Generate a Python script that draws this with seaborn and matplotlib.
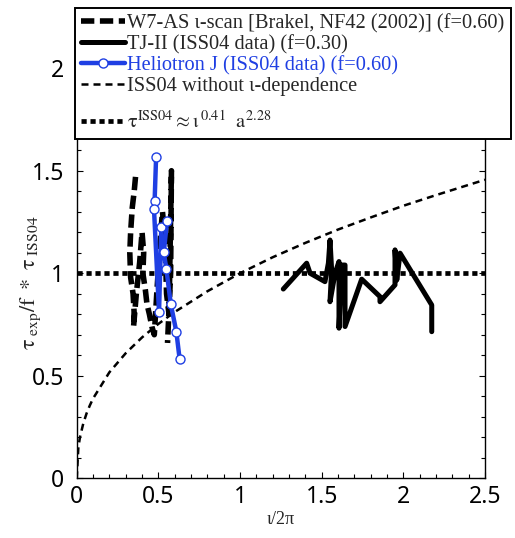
import matplotlib
matplotlib.use("Agg")
import matplotlib.pyplot as plt
from matplotlib.ticker import MultipleLocator, FixedLocator, FuncFormatter
import numpy as np
import pandas as pd
import seaborn as sns

# --- data -------------------------------------------------------------
# W7-AS iota scan (Brakel, NF42 2002), normalised confinement, f = 0.60
w7_iota = [0.360, 0.352, 0.340, 0.330, 0.325, 0.330, 0.345, 0.352, 0.348,
           0.365, 0.385, 0.400, 0.410, 0.405, 0.420, 0.430, 0.445, 0.460,
           0.475, 0.490, 0.510, 0.525, 0.540, 0.550, 0.565, 0.580, 0.575,
           0.556]
w7_tau = [1.47, 1.40, 1.32, 1.20, 1.10, 0.98, 0.90, 0.80, 0.74,
          0.90, 1.05, 1.20, 1.10, 1.00, 0.92, 0.85, 0.80, 0.74,
          0.70, 0.90, 1.15, 1.30, 1.18, 0.90, 0.80, 1.50, 1.00,
          0.66]

# TJ-II (ISS04 data), f = 0.30
tj_iota = [1.265, 1.408, 1.429, 1.520, 1.541, 1.551, 1.561, 1.551, 1.582,
           1.606, 1.606, 1.623, 1.643, 1.643, 1.745, 1.857, 1.857, 1.949,
           1.949, 1.960, 1.980, 2.174, 2.174]
tj_tau = [0.923, 1.049, 1.000, 0.959, 1.049, 1.162, 1.016, 0.861, 1.000,
          1.057, 0.732, 1.040, 1.040, 0.740, 0.971, 0.886, 0.861, 0.943,
          1.114, 0.967, 1.098, 0.845, 0.715]

# Heliotron J (ISS04 data), f = 0.60
hj_iota = [0.486, 0.477, 0.473, 0.504, 0.518, 0.553, 0.533, 0.549,
           0.576, 0.610, 0.630]
hj_tau = [1.566, 1.354, 1.314, 0.810, 1.224, 1.255, 1.102, 1.020,
          0.849, 0.715, 0.582]

# ISS04 scaling without iota dependence
iss_iota = [0.0, 0.01, 0.02, 0.04, 0.06, 0.08, 0.10, 0.20, 0.30, 0.40,
            0.50, 0.60, 0.80, 1.00, 1.20, 1.40, 1.60, 1.80, 2.00, 2.20,
            2.50]
iss_tau = [0.0, 0.151, 0.201, 0.267, 0.316, 0.355, 0.389, 0.517, 0.610,
           0.687, 0.753, 0.811, 0.912, 1.000, 1.078, 1.148, 1.213, 1.272,
           1.329, 1.381, 1.456]

# reference level tau_exp / tau_ISS04 = 1
ref_iota = [0.0, 2.5]
ref_tau = [1.0, 1.0]

labels = [
    "W7-AS \u03b9-scan [Brakel, NF42 (2002)] (f=0.60)",
    "TJ-II (ISS04 data) (f=0.30)",
    "Heliotron J (ISS04 data) (f=0.60)",
    "ISS04 without \u03b9-dependence",
    r"$\mathrm{\tau}^{\mathrm{ISS04}} \approx \mathrm{\iota}^{\,0.41}\ \ \mathrm{a}^{2.28}$",
]
x_ticks = [0, 0.5, 1, 1.5, 2, 2.5]
y_ticks = [0, 0.5, 1, 1.5, 2]

# --- style ------------------------------------------------------------
sns.set_style("ticks")
plt.rcParams["font.family"] = ["Liberation Serif", "DejaVu Serif"]
plt.rcParams["mathtext.fontset"] = "stix"

blue = "#1f3fe3"

fig = plt.figure(figsize=(5.15, 5.38), dpi=100)
ax = fig.add_axes([0.149, 0.111, 0.7927, 0.7813])

def frame(x, y):
    return pd.DataFrame({"iota": x, "tau": y})

sns.lineplot(data=frame(w7_iota, w7_tau), x="iota", y="tau", ax=ax,
             sort=False, estimator=None, color="black", lw=4.0,
             linestyle=(0, (2.4, 1.0)), label=labels[0])
sns.lineplot(data=frame(tj_iota, tj_tau), x="iota", y="tau", ax=ax,
             sort=False, estimator=None, color="black", lw=3.6,
             label=labels[1])
sns.lineplot(data=frame(hj_iota, hj_tau), x="iota", y="tau", ax=ax,
             sort=False, estimator=None, color=blue, lw=3.2,
             marker="o", markersize=6.5, markerfacecolor="white",
             markeredgecolor=blue, markeredgewidth=1.0,
             label=labels[2], zorder=4)
sns.lineplot(data=frame(iss_iota, iss_tau), x="iota", y="tau", ax=ax,
             sort=False, estimator=None, color="black", lw=1.8,
             linestyle=(0, (2.8, 2.0)), label=labels[3])
sns.lineplot(data=frame(ref_iota, ref_tau), x="iota", y="tau", ax=ax,
             sort=False, estimator=None, color="black", lw=3.4,
             linestyle=(0, (1.1, 0.8)), label=labels[4], zorder=1)

ax.set_xlim(0, 2.5)
ax.set_ylim(0, 2.05)
ax.xaxis.set_major_locator(FixedLocator(x_ticks))
ax.yaxis.set_major_locator(FixedLocator(y_ticks))
ax.xaxis.set_minor_locator(MultipleLocator(0.1))
ax.yaxis.set_minor_locator(MultipleLocator(0.1))
fmt = FuncFormatter(lambda v, p: f"{v:g}")
ax.xaxis.set_major_formatter(fmt)
ax.yaxis.set_major_formatter(fmt)
ax.tick_params(which="both", direction="in", top=True, right=True,
               width=0.8, colors="black")
ax.tick_params(which="major", length=4.5)
ax.tick_params(which="minor", length=2.8)
ax.tick_params(axis="y", which="major", pad=9)
ax.tick_params(axis="x", which="major", pad=5)
for lab in ax.get_xticklabels() + ax.get_yticklabels():
    lab.set_family(["Noto Sans", "DejaVu Sans"])
    lab.set_fontsize(16.5)
for sp in ax.spines.values():
    sp.set_linewidth(1.0)
    sp.set_color("black")

ax.set_xlabel("\u03b9/2\u03c0", fontsize=13)
ax.xaxis.set_label_coords(0.5, -0.078)
ax.set_ylabel(r"$\mathrm{\tau}_{\ \mathrm{exp}}\mathrm{/f\ *\ \tau}_{\ \mathrm{ISS04}}$",
              fontsize=16)
ax.yaxis.set_label_coords(-0.082, 0.465)

handles, labs = ax.get_legend_handles_labels()
ax.get_legend().remove()
leg = fig.legend(handles, labs, loc="upper left",
                 bbox_to_anchor=(75 / 515, 1 - 7.5 / 538),
                 bbox_transform=fig.transFigure, frameon=True,
                 fancybox=False, framealpha=1, edgecolor="black",
                 borderaxespad=0, borderpad=0.3, labelspacing=0.08,
                 handlelength=2.15, handletextpad=0.12,
                 prop={"family": ["Liberation Serif"], "size": 14.7})
leg.get_frame().set_linewidth(1.4)
leg.get_texts()[2].set_color(blue)

# give the scaling-law row extra headroom for its superscripts
legend_box = leg.get_children()[0]
rows = legend_box.get_children()[1].get_children()[0].get_children()
last_handle_area = rows[-1].get_children()[0]
last_handle_area.height += 11.5

fig.savefig("out.png", dpi=100)
